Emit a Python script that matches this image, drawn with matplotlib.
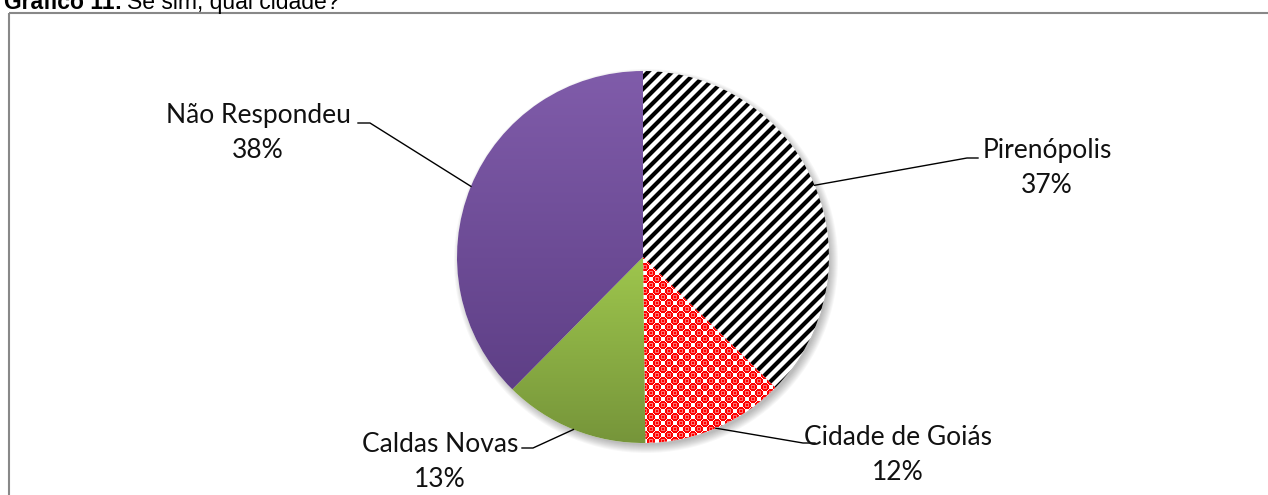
import numpy as np
import matplotlib.pyplot as plt
from matplotlib.patches import Rectangle, Circle
from matplotlib.colors import to_rgb

W, H = 1268, 495

# ── data ──────────────────────────────────────────────────────────────────────
categories = ["Pirenópolis", "Cidade de Goiás", "Caldas Novas", "Não Respondeu"]
shares = [37.4, 12.4, 12.6, 37.6]
title_bold = "Gráfico 11:"
title_rest = "Se sim, qual cidade?"

# ── layout (pixel coords, y down) ─────────────────────────────────────────────
center = (643, 257)
radius = 186
label_pos = [(1047, 158), (898, 445), (440, 452), (258, 123)]
elbows = [((967, 158), (978, 158)), ((803, 443), (815, 443)),
          ((533, 448), (522, 448)), ((370, 123), (358, 123))]
label_font = "Lato"

fig = plt.figure(figsize=(W / 100, H / 100), dpi=100)
ax = fig.add_axes([0, 0, 1, 1])

wedges, _ = ax.pie(shares, startangle=-90, counterclock=True, center=center,
                   radius=radius, wedgeprops=dict(linewidth=0), colors=["white"] * 4)
ax.set_aspect("auto")
ax.axis("off")

# soft shadow under the pie
cx, cy = center
for k in range(9):
    ax.add_patch(Circle((cx + 3, cy + 4), radius - 2 + k, color="black",
                        alpha=0.03, lw=0, zorder=0.5))
for w in wedges:
    w.set_zorder(1)

# pixel grid over the pie bbox for the fills
bx0, bx1 = cx - radius - 2, cx + radius + 2
by0, by1 = cy - radius - 2, cy + radius + 2
xx, yy = np.meshgrid(np.arange(bx0, bx1) + 0.5, np.arange(by0, by1) + 0.5)


def stripes():
    c = np.cos(2 * np.pi * (xx + yy) / 12.0)
    v = 1 - np.clip((c + 0.25) / 0.55, 0, 1)
    return np.dstack([v, v, v])


def checker():
    cell = 6.0
    ci = np.floor(xx / cell)
    cj = np.floor(yy / cell)
    fx = np.abs(xx / cell - ci - 0.5)
    fy = np.abs(yy / cell - cj - 0.5)
    d = np.minimum(np.hypot(1 - fx, fy), np.hypot(fx, 1 - fy))
    red = ((ci + cj) % 2 == 1) | (d < 0.68)
    img = np.ones(xx.shape + (3,))
    img[red] = to_rgb("#FF0000")
    hl = ((ci + cj) % 2 == 1) & (np.hypot(fx - 0.22, fy - 0.22) < 0.16)
    img[hl] = to_rgb("#FF7070")
    return img


def gradient(w, top, bot):
    ext = w.get_path().get_extents()
    t = np.clip((yy - ext.y0) / max(ext.y1 - ext.y0, 1), 0, 1)[..., None]
    return np.array(to_rgb(top)) * (1 - t) + np.array(to_rgb(bot)) * t


fills = [stripes(), checker(),
         gradient(wedges[2], "#9EC64D", "#76953A"),
         gradient(wedges[3], "#805CAA", "#5E3F86")]

for w, img in zip(wedges, fills):
    im = ax.imshow(img, extent=(bx0, bx1, by1, by0), origin="upper",
                   interpolation="nearest", aspect="auto", zorder=1.5)
    im.set_clip_path(w)

ax.set_xlim(0, W)
ax.set_ylim(H, 0)

# leader lines and labels
for w, v, name, (lx, ly), (e1, e2) in zip(wedges, shares, categories, label_pos, elbows):
    mid = np.deg2rad((w.theta1 + w.theta2) / 2)
    px, py = cx + radius * np.cos(mid), cy + radius * np.sin(mid)
    ax.plot([px, e1[0], e2[0]], [py, e1[1], e2[1]], color="black", lw=1.0, zorder=3)
    ax.text(lx, ly, name, ha="center", va="baseline", fontsize=19,
            family=label_font, color="#111111")
    ax.text(lx, ly + 35, f"{round(v)}%", ha="center", va="baseline", fontsize=19,
            family=label_font, color="#111111")

# outer frame
ax.add_patch(Rectangle((9, 13), 1400, 600, fill=False, edgecolor="#888888", lw=1.5, zorder=4))

# title (cut at the top like the source)
t1 = fig.text(4 / W, 1 - 9 / H, title_bold, fontweight="bold", family="Liberation Sans",
              fontsize=16.5, va="baseline")
fig.canvas.draw()
bb = t1.get_window_extent(fig.canvas.get_renderer())
fig.text((bb.x1 + 5) / W, 1 - 9 / H, title_rest, family="Liberation Sans",
         fontsize=16.5, va="baseline")

fig.savefig("out.png", dpi=100)
